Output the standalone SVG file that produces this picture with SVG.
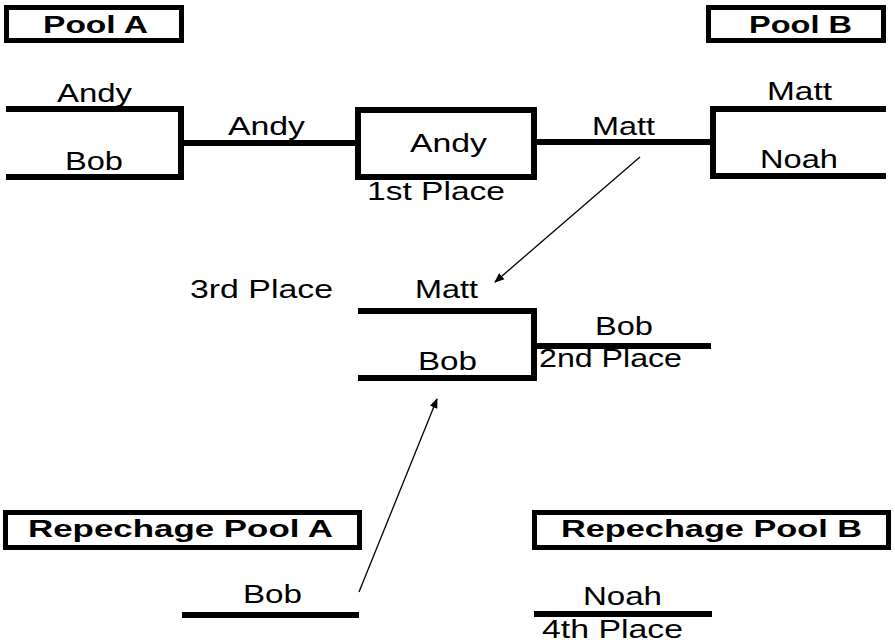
<svg xmlns="http://www.w3.org/2000/svg" width="895" height="644" viewBox="0 0 895 644">
<style>
.box{fill:#fff;stroke:#000;stroke-width:5}
.br{fill:none;stroke:#000;stroke-width:6;stroke-linejoin:miter;stroke-linecap:butt}
.t{font-family:"Liberation Sans",Arial,sans-serif;font-size:25px;fill:#000}
.b{font-family:"Liberation Sans",Arial,sans-serif;font-size:24px;font-weight:bold;fill:#000}
.ar{stroke:#000;stroke-width:1.3;fill:none}
</style>
<defs>
<marker id="ah" viewBox="0 0 10 10" refX="9" refY="5" markerWidth="10" markerHeight="10" markerUnits="userSpaceOnUse" orient="auto">
<path d="M0,1 L10,5 L0,9 z" fill="#000"/>
</marker>
</defs>
<g id="poolA"><rect class="box" x="6.5" y="7.5" width="175" height="33"/><text class="b" x="43" y="33" textLength="105" lengthAdjust="spacingAndGlyphs">Pool A</text></g>
<g id="poolB"><rect class="box" x="708.5" y="7.5" width="175" height="33"/><text class="b" x="749" y="33" textLength="103" lengthAdjust="spacingAndGlyphs">Pool B</text></g>
<g id="repA"><rect class="box" x="5.5" y="512.5" width="354" height="35"/><text class="b" x="28" y="537" textLength="305" lengthAdjust="spacingAndGlyphs">Repechage Pool A</text></g>
<g id="repB"><rect class="box" x="534.5" y="512.5" width="354" height="35"/><text class="b" x="561" y="537" textLength="301" lengthAdjust="spacingAndGlyphs">Repechage Pool B</text></g>
<g id="connectors">
<path class="br" d="M6,109 H181 V177 H6 M181,143 H358"/>
<path class="br" d="M534,142 H713 M886,109 H713 V176 H886"/>
<path class="br" d="M358,311 H534 V378 H358 M534,346 H711"/>
<path class="br" d="M182,615 H359"/>
<path class="br" d="M534,614 H712"/>
<line class="ar" x1="640" y1="157" x2="495" y2="282" marker-end="url(#ah)"/>
<line class="ar" x1="359" y1="592" x2="437" y2="399" marker-end="url(#ah)"/>
</g>
<g id="poolA-bracket">
<text class="t" x="57" y="102" textLength="75" lengthAdjust="spacingAndGlyphs">Andy</text>
<text class="t" x="65" y="170" textLength="58" lengthAdjust="spacingAndGlyphs">Bob</text>
<text class="t" x="228" y="135" textLength="77" lengthAdjust="spacingAndGlyphs">Andy</text>
</g>
<g id="first">
<rect class="box" x="358" y="110" width="176" height="67" style="stroke-width:6"/>
<text class="t" x="410" y="152" textLength="77" lengthAdjust="spacingAndGlyphs">Andy</text>
<text class="t" x="367" y="200" textLength="138" lengthAdjust="spacingAndGlyphs">1st Place</text>
</g>
<g id="poolB-bracket">
<text class="t" x="592" y="135" textLength="63" lengthAdjust="spacingAndGlyphs">Matt</text>
<text class="t" x="767" y="100" textLength="65" lengthAdjust="spacingAndGlyphs">Matt</text>
<text class="t" x="760" y="168" textLength="78" lengthAdjust="spacingAndGlyphs">Noah</text>
</g>
<g id="third">
<text class="t" x="190" y="298" textLength="143" lengthAdjust="spacingAndGlyphs">3rd Place</text>
<text class="t" x="415" y="298" textLength="63" lengthAdjust="spacingAndGlyphs">Matt</text>
<text class="t" x="418" y="370" textLength="59" lengthAdjust="spacingAndGlyphs">Bob</text>
<text class="t" x="595" y="335" textLength="58" lengthAdjust="spacingAndGlyphs">Bob</text>
<text class="t" x="539" y="367" textLength="143" lengthAdjust="spacingAndGlyphs">2nd Place</text>
</g>
<g id="repA-bob"><text class="t" x="243" y="603" textLength="59" lengthAdjust="spacingAndGlyphs">Bob</text></g>
<g id="repB-noah">
<text class="t" x="583" y="605" textLength="79" lengthAdjust="spacingAndGlyphs">Noah</text>
<text class="t" x="542" y="638" textLength="141" lengthAdjust="spacingAndGlyphs">4th Place</text>
</g>
</svg>
